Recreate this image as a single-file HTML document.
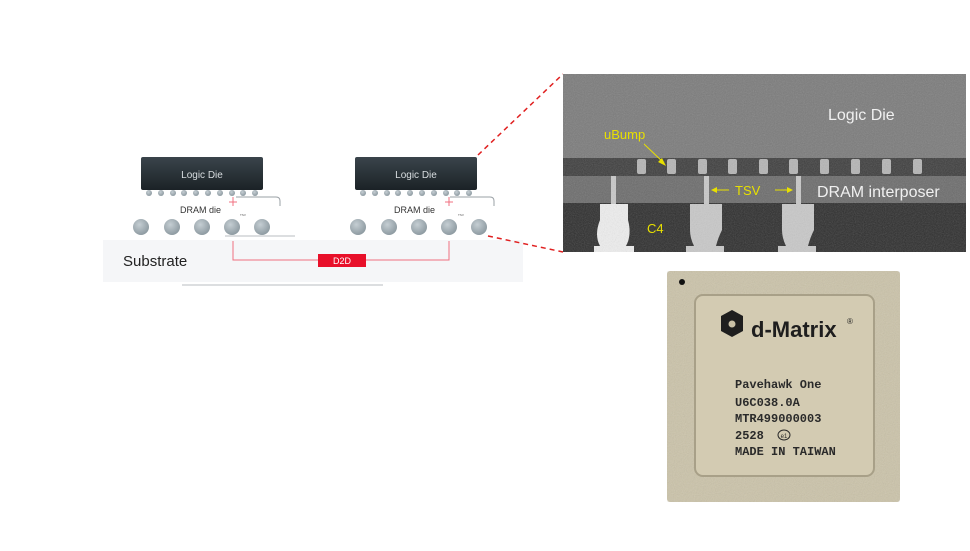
<!DOCTYPE html>
<html><head><style>
body{margin:0;width:970px;height:546px;background:#fff;overflow:hidden;font-family:"Liberation Sans",sans-serif}
</style></head><body>
<svg width="970" height="546" viewBox="0 0 970 546" xmlns="http://www.w3.org/2000/svg">
<defs>
<linearGradient id="die" x1="0" y1="0" x2="0" y2="1"><stop offset="0" stop-color="#3a444b"/><stop offset="1" stop-color="#1b2226"/></linearGradient>
<radialGradient id="ball" cx="0.4" cy="0.35" r="0.7"><stop offset="0" stop-color="#c5ced3"/><stop offset="1" stop-color="#8a979e"/></radialGradient>
<filter id="noise"><feTurbulence type="fractalNoise" baseFrequency="0.9" numOctaves="2" result="n"/><feColorMatrix type="saturate" values="0"/><feComponentTransfer><feFuncA type="linear" slope="0.25"/></feComponentTransfer><feComposite in2="SourceGraphic" operator="in"/></filter>
</defs>
<rect x="103" y="240" width="420" height="42" fill="#f5f6f8"/>
<line x1="182" y1="285" x2="383" y2="285" stroke="#b8bcc0" stroke-width="1"/>
<text x="123" y="266" font-size="15" fill="#222">Substrate</text>
<g id="d1">
<path d="M236 197 H276 Q280 197 280 201 V206" fill="none" stroke="#9aa0a5" stroke-width="1"/>
<line x1="225" y1="236" x2="295" y2="236" stroke="#b8bcc0"/>
<rect x="141" y="157" width="122" height="33" rx="2" fill="url(#die)"/>
<text x="202" y="178" font-size="10" fill="#d8dde0" text-anchor="middle">Logic Die</text>
<g fill="url(#ball)"><circle cx="149" cy="193" r="3"/><circle cx="161" cy="193" r="3"/><circle cx="173" cy="193" r="3"/><circle cx="184" cy="193" r="3"/><circle cx="196" cy="193" r="3"/><circle cx="208" cy="193" r="3"/><circle cx="220" cy="193" r="3"/><circle cx="232" cy="193" r="3"/><circle cx="243" cy="193" r="3"/><circle cx="255" cy="193" r="3"/></g>
<path d="M233 197 V206 M229 202 H237" stroke="#f07080" stroke-width="1"/>
<text x="180" y="213" font-size="9" fill="#333">DRAM die</text>
<text x="240" y="216" font-size="3" fill="#555">TSV</text>
<g fill="url(#ball)"><circle cx="141" cy="227" r="8"/><circle cx="172" cy="227" r="8"/><circle cx="202" cy="227" r="8"/><circle cx="232" cy="227" r="8"/><circle cx="262" cy="227" r="8"/></g>
</g>
<g transform="translate(214,0)">
<path d="M236 197 H276 Q280 197 280 201 V206" fill="none" stroke="#9aa0a5" stroke-width="1"/>
<rect x="141" y="157" width="122" height="33" rx="2" fill="url(#die)"/>
<text x="202" y="178" font-size="10" fill="#d8dde0" text-anchor="middle">Logic Die</text>
<g fill="url(#ball)"><circle cx="149" cy="193" r="3"/><circle cx="161" cy="193" r="3"/><circle cx="173" cy="193" r="3"/><circle cx="184" cy="193" r="3"/><circle cx="196" cy="193" r="3"/><circle cx="208" cy="193" r="3"/><circle cx="220" cy="193" r="3"/><circle cx="232" cy="193" r="3"/><circle cx="243" cy="193" r="3"/><circle cx="255" cy="193" r="3"/></g>
<path d="M235 197 V206 M231 202 H239" stroke="#f07080" stroke-width="1"/>
<text x="180" y="213" font-size="9" fill="#333">DRAM die</text>
<text x="244" y="216" font-size="3" fill="#555">TSV</text>
<g fill="url(#ball)"><circle cx="144" cy="227" r="8"/><circle cx="175" cy="227" r="8"/><circle cx="205" cy="227" r="8"/><circle cx="235" cy="227" r="8"/><circle cx="265" cy="227" r="8"/></g>
</g>
<path d="M233 241 V260 H449 V241" fill="none" stroke="#f07080" stroke-width="1"/>
<rect x="318" y="254" width="48" height="13" fill="#e8102a"/>
<text x="342" y="264" font-size="9" fill="#fff" text-anchor="middle">D2D</text>
<line x1="478" y1="155" x2="563" y2="74" stroke="#e02020" stroke-width="1.5" stroke-dasharray="5,4"/>
<line x1="488" y1="236" x2="563" y2="252" stroke="#e02020" stroke-width="1.5" stroke-dasharray="5,4"/>
<g>
<rect x="563" y="74" width="403" height="84" fill="#7b7b7b"/>
<rect x="563" y="158" width="403" height="18" fill="#3e3e3e"/>
<rect x="563" y="176" width="403" height="27" fill="#6c6c6c"/>
<rect x="563" y="203" width="403" height="49" fill="#2e2e2e"/>
<g fill="#b5b5b5"><rect x="637" y="159" width="9" height="15" rx="2"/><rect x="667" y="159" width="9" height="15" rx="2"/><rect x="698" y="159" width="9" height="15" rx="2"/><rect x="728" y="159" width="9" height="15" rx="2"/><rect x="759" y="159" width="9" height="15" rx="2"/><rect x="789" y="159" width="9" height="15" rx="2"/><rect x="820" y="159" width="9" height="15" rx="2"/><rect x="851" y="159" width="9" height="15" rx="2"/><rect x="882" y="159" width="9" height="15" rx="2"/><rect x="913" y="159" width="9" height="15" rx="2"/></g>
<g fill="#c8c8c8"><rect x="611" y="176" width="5" height="28"/><rect x="704" y="176" width="5" height="28"/><rect x="796" y="176" width="5" height="28"/>
<path d="M600 204 H628 V220 Q632 235 626 246 H634 V252 H594 V246 H600 Q594 235 600 220 Z" fill="#eee"/>
<path d="M690 204 H722 V230 Q718 238 716 246 H724 V252 H686 V246 H694 Q690 238 690 230 Z"/>
<path d="M782 204 H814 V230 Q810 238 808 246 H816 V252 H778 V246 H786 Q782 238 782 230 Z"/></g>
<rect x="563" y="74" width="403" height="178" fill="#888" filter="url(#noise)"/>
<text x="828" y="120" font-size="16" fill="#f0f0f0">Logic Die</text>
<text x="817" y="197" font-size="16" fill="#f0f0f0">DRAM interposer</text>
<text x="604" y="139" font-size="13" fill="#e8e000">uBump</text>
<line x1="644" y1="144" x2="664" y2="163" stroke="#e8e000" stroke-width="1"/>
<path d="M666 166 L658 162 L662 158 Z" fill="#e8e000"/>
<text x="735" y="195" font-size="13" fill="#e8e000">TSV</text>
<path d="M713 190 H729 M775 190 H791" stroke="#e8e000" stroke-width="1"/>
<path d="M711 190 L717 187 V193 Z M793 190 L787 187 V193 Z" fill="#e8e000"/>
<text x="647" y="233" font-size="13" fill="#e8e000">C4</text>
</g>
<rect x="667" y="271" width="233" height="231" rx="3" fill="#cbc3a9"/>
<rect x="667" y="271" width="233" height="231" fill="#cbc3a9" filter="url(#noise)"/>
<rect x="695" y="295" width="179" height="181" rx="8" fill="#d3cbb2" stroke="#a8a088" stroke-width="2"/>
<circle cx="682" cy="282" r="3" fill="#111"/>
<path d="M721 316 L732 310 L743 316 V331 L732 337 L721 331 Z" fill="#1e1e1e"/>
<circle cx="732" cy="324" r="3.5" fill="#c9c0a6"/>
<text x="751" y="337" font-size="22" font-weight="bold" fill="#1e1e1e">d-Matrix</text>
<text x="847" y="324" font-size="8" fill="#1e1e1e">®</text>
<g font-family="'Liberation Mono',monospace" font-size="12" font-weight="bold" fill="#2a2a2a">
<text x="735" y="388">Pavehawk One</text>
<text x="735" y="406">U6C038.0A</text>
<text x="735" y="422">MTR499000003</text>
<text x="735" y="439">2528</text>
<text x="735" y="455">MADE IN TAIWAN</text>
</g>
<ellipse cx="784" cy="435" rx="6" ry="5" fill="none" stroke="#2a2a2a"/>
<text x="784" y="438" font-size="6" fill="#2a2a2a" text-anchor="middle">e1</text>
</svg>
</body></html>
